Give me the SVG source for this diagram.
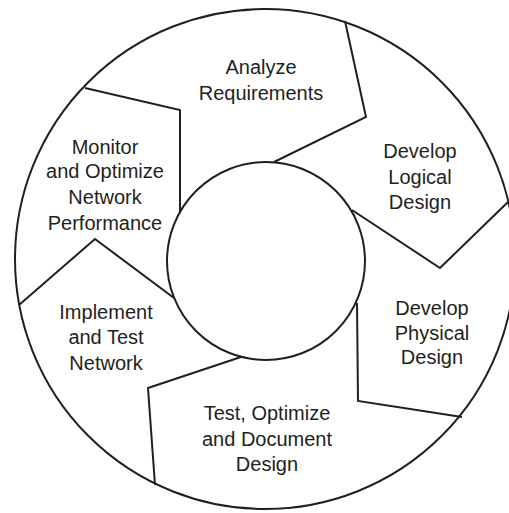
<svg xmlns="http://www.w3.org/2000/svg" width="509" height="513" viewBox="0 0 509 513">
<style>
.ln{fill:none;stroke:#231f20;stroke-width:2;stroke-linejoin:miter}
.lb{font-family:"Liberation Sans",Arial,sans-serif;font-size:20px;fill:#231f20;text-anchor:middle}
</style>
<rect width="509" height="513" fill="#fff"/>
<g id="frame">
<circle class="ln" cx="265" cy="259" r="250"/>
<circle class="ln" cx="266" cy="261" r="99"/>
</g>
<g id="connectors">
<polyline class="ln" points="85,88 180,110 180,212"/>
<polyline class="ln" points="345,21 366,117 274,162"/>
<polyline class="ln" points="352,210 440,268 508,202"/>
<polyline class="ln" points="357,303 358,401 462,417"/>
<polyline class="ln" points="241,357 148,388 155,485"/>
<polyline class="ln" points="174,298 95,239 19,305"/>
</g>
<g id="analyze"><text class="lb" x="261" y="74">Analyze</text><text class="lb" x="261" y="100">Requirements</text></g>
<g id="logical"><text class="lb" x="420" y="158">Develop</text><text class="lb" x="420" y="184">Logical</text><text class="lb" x="420" y="209">Design</text></g>
<g id="physical"><text class="lb" x="432" y="315">Develop</text><text class="lb" x="432" y="340">Physical</text><text class="lb" x="432" y="364">Design</text></g>
<g id="test"><text class="lb" x="267" y="420">Test, Optimize</text><text class="lb" x="267" y="446">and Document</text><text class="lb" x="267" y="471">Design</text></g>
<g id="implement"><text class="lb" x="106" y="319">Implement</text><text class="lb" x="106" y="344">and Test</text><text class="lb" x="106" y="370">Network</text></g>
<g id="monitor"><text class="lb" x="105" y="154">Monitor</text><text class="lb" x="105" y="178">and Optimize</text><text class="lb" x="105" y="204">Network</text><text class="lb" x="105" y="230">Performance</text></g>
</svg>
